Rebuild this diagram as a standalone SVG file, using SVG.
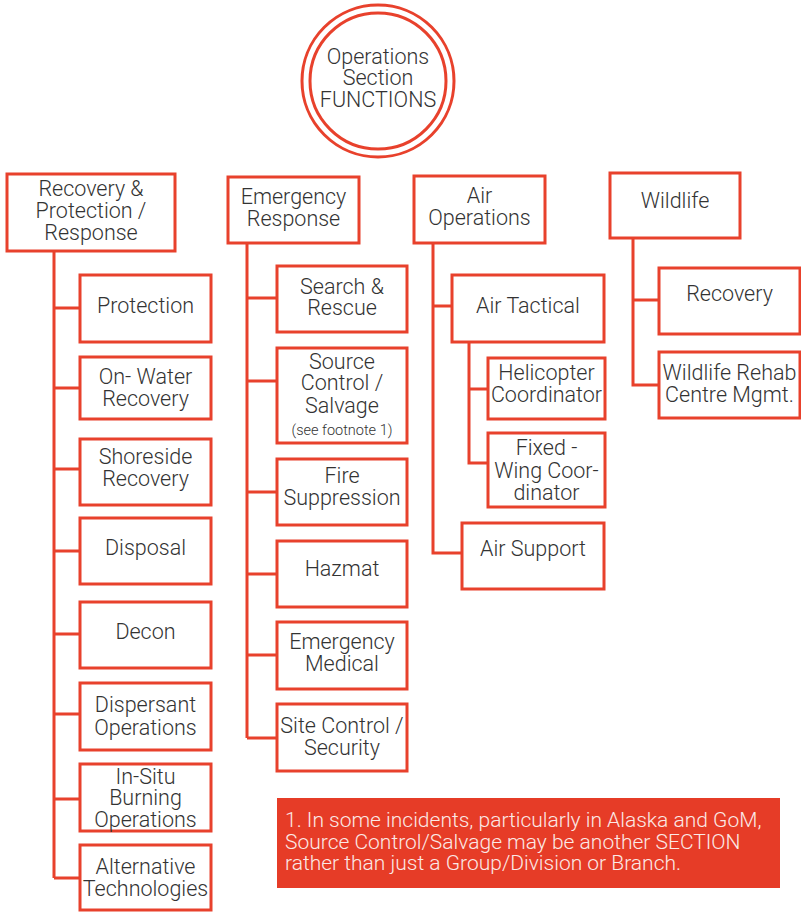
<svg xmlns="http://www.w3.org/2000/svg" width="801" height="912" viewBox="0 0 801 912">
  <style>
    .box { fill: #ffffff; stroke: #e8412c; stroke-width: 3; }
    .ring { fill: none; stroke: #e8412c; stroke-width: 3; }
    .link { fill: none; stroke: #e8412c; stroke-width: 3; }
    .lbl { font-family: Roboto, "Liberation Sans", sans-serif; font-weight: 300; font-size: 21.5px; fill: #333333; text-anchor: middle; }
    .small { font-size: 14.5px; }
    .note { font-family: Roboto, "Liberation Sans", sans-serif; font-weight: 300; font-size: 21px; fill: #fbe9e6; }
  </style>
  <rect width="801" height="912" fill="#ffffff"/>

  <!-- connectors -->
  <g id="connectors">
    <!-- Recovery & Protection / Response branch -->
    <path class="link" d="M54 251 V878 M54 308 H80 M54 388 H80 M54 469 H80 M54 551 H80 M54 634 H80 M54 714 H80 M54 799 H80 M54 878 H80"/>
    <!-- Emergency Response branch -->
    <path class="link" d="M247 243 V738 M247 298 H277 M247 381 H277 M247 492 H277 M247 574 H277 M247 655 H277 M247 738 H277"/>
    <!-- Air Operations branch -->
    <path class="link" d="M433 243 V553 H462 M433 306 H452 M469 342 V463 H488 M469 389 H488"/>
    <!-- Wildlife branch -->
    <path class="link" d="M633 238 V385 H659 M633 300 H659"/>
  </g>

  <!-- title -->
  <g id="title">
    <circle class="ring" cx="378" cy="81" r="76"/>
    <circle class="ring" cx="378" cy="81" r="68"/>
    <text class="lbl"><tspan x="378" y="64">Operations</tspan><tspan x="378" y="85">Section</tspan><tspan x="378" y="107">FUNCTIONS</tspan></text>
  </g>

  <!-- Recovery & Protection / Response column -->
  <g id="recovery-protection-response">
    <rect class="box" x="7" y="174" width="168" height="77"/>
    <text class="lbl"><tspan x="91" y="196">Recovery &amp;</tspan><tspan x="91" y="218">Protection /</tspan><tspan x="91" y="240">Response</tspan></text>
  </g>
  <g id="protection">
    <rect class="box" x="80" y="275" width="131" height="67"/>
    <text class="lbl" x="145.5" y="313">Protection</text>
  </g>
  <g id="on-water-recovery">
    <rect class="box" x="80" y="357" width="131" height="62"/>
    <text class="lbl"><tspan x="145.5" y="384">On- Water</tspan><tspan x="145.5" y="406">Recovery</tspan></text>
  </g>
  <g id="shoreside-recovery">
    <rect class="box" x="80" y="439" width="131" height="66"/>
    <text class="lbl"><tspan x="145.5" y="464">Shoreside</tspan><tspan x="145.5" y="486">Recovery</tspan></text>
  </g>
  <g id="disposal">
    <rect class="box" x="80" y="518" width="131" height="66"/>
    <text class="lbl" x="145.5" y="555">Disposal</text>
  </g>
  <g id="decon">
    <rect class="box" x="80" y="602" width="131" height="66"/>
    <text class="lbl" x="145.5" y="639">Decon</text>
  </g>
  <g id="dispersant-operations">
    <rect class="box" x="80" y="683" width="131" height="67"/>
    <text class="lbl"><tspan x="145.5" y="712">Dispersant</tspan><tspan x="145.5" y="735">Operations</tspan></text>
  </g>
  <g id="in-situ-burning">
    <rect class="box" x="80" y="764" width="131" height="67"/>
    <text class="lbl"><tspan x="145.5" y="784">In-Situ</tspan><tspan x="145.5" y="805">Burning</tspan><tspan x="145.5" y="827">Operations</tspan></text>
  </g>
  <g id="alternative-technologies">
    <rect class="box" x="80" y="845" width="131" height="65"/>
    <text class="lbl"><tspan x="145.5" y="874">Alternative</tspan><tspan x="145.5" y="896">Technologies</tspan></text>
  </g>

  <!-- Emergency Response column -->
  <g id="emergency-response">
    <rect class="box" x="228" y="177" width="131" height="66"/>
    <text class="lbl"><tspan x="293.5" y="204">Emergency</tspan><tspan x="293.5" y="226">Response</tspan></text>
  </g>
  <g id="search-rescue">
    <rect class="box" x="277" y="266" width="130" height="66"/>
    <text class="lbl"><tspan x="342" y="294">Search &amp;</tspan><tspan x="342" y="315">Rescue</tspan></text>
  </g>
  <g id="source-control-salvage">
    <rect class="box" x="277" y="348" width="130" height="95"/>
    <text class="lbl"><tspan x="342" y="369">Source</tspan><tspan x="342" y="390">Control /</tspan><tspan x="342" y="413">Salvage</tspan><tspan class="small" x="342" y="435">(see footnote 1)</tspan></text>
  </g>
  <g id="fire-suppression">
    <rect class="box" x="277" y="459" width="130" height="66"/>
    <text class="lbl"><tspan x="342" y="483">Fire</tspan><tspan x="342" y="505">Suppression</tspan></text>
  </g>
  <g id="hazmat">
    <rect class="box" x="277" y="541" width="130" height="66"/>
    <text class="lbl" x="342" y="576">Hazmat</text>
  </g>
  <g id="emergency-medical">
    <rect class="box" x="277" y="622" width="130" height="67"/>
    <text class="lbl"><tspan x="342" y="649">Emergency</tspan><tspan x="342" y="671">Medical</tspan></text>
  </g>
  <g id="site-control-security">
    <rect class="box" x="277" y="704" width="130" height="67"/>
    <text class="lbl"><tspan x="342" y="733">Site Control /</tspan><tspan x="342" y="755">Security</tspan></text>
  </g>

  <!-- Air Operations column -->
  <g id="air-operations">
    <rect class="box" x="414" y="176" width="131" height="67"/>
    <text class="lbl"><tspan x="479.5" y="203">Air</tspan><tspan x="479.5" y="225">Operations</tspan></text>
  </g>
  <g id="air-tactical">
    <rect class="box" x="452" y="275" width="152" height="67"/>
    <text class="lbl" x="528" y="313">Air Tactical</text>
  </g>
  <g id="helicopter-coordinator">
    <rect class="box" x="488" y="358" width="117" height="61"/>
    <text class="lbl"><tspan x="546.5" y="380">Helicopter</tspan><tspan x="546.5" y="402">Coordinator</tspan></text>
  </g>
  <g id="fixed-wing-coordinator">
    <rect class="box" x="488" y="433" width="117" height="74"/>
    <text class="lbl"><tspan x="546.5" y="455">Fixed -</tspan><tspan x="546.5" y="478">Wing Coor-</tspan><tspan x="546.5" y="500">dinator</tspan></text>
  </g>
  <g id="air-support">
    <rect class="box" x="462" y="523" width="142" height="66"/>
    <text class="lbl" x="533" y="556">Air Support</text>
  </g>

  <!-- Wildlife column -->
  <g id="wildlife">
    <rect class="box" x="610" y="173" width="130" height="65"/>
    <text class="lbl" x="675" y="208">Wildlife</text>
  </g>
  <g id="wildlife-recovery">
    <rect class="box" x="659" y="268" width="141" height="66"/>
    <text class="lbl" x="729.5" y="301">Recovery</text>
  </g>
  <g id="wildlife-rehab">
    <rect class="box" x="659" y="352" width="141" height="66"/>
    <text class="lbl"><tspan x="729.5" y="380">Wildlife Rehab</tspan><tspan x="729.5" y="402">Centre Mgmt.</tspan></text>
  </g>

  <!-- footnote -->
  <g id="footnote">
    <rect x="277" y="798" width="503" height="90" fill="#e63c27"/>
    <text class="note"><tspan x="285" y="827">1. In some incidents, particularly in Alaska and GoM,</tspan><tspan x="285" y="849">Source Control/Salvage may be another SECTION</tspan><tspan x="285" y="870">rather than just a Group/Division or Branch.</tspan></text>
  </g>
</svg>
